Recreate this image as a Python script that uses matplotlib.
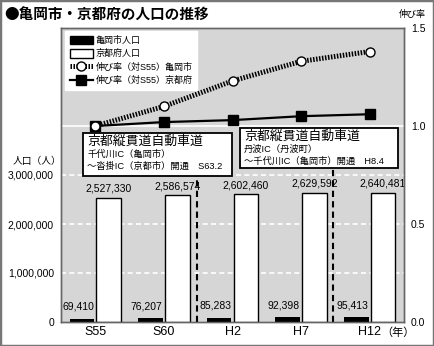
import numpy as np
import matplotlib
matplotlib.use('Agg')
import matplotlib.pyplot as plt
from matplotlib.patches import Patch, Rectangle
from matplotlib.lines import Line2D

plt.rcParams['font.family'] = ['Liberation Sans', 'Noto Sans CJK JP']

# data
years = ['S55', 'S60', 'H2', 'H7', 'H12']
kameoka_pop = [69410, 76207, 85283, 92398, 95413]
kyoto_pop = [2527330, 2586574, 2602460, 2629592, 2640481]
kameoka_rate = [1.00, 1.10, 1.23, 1.33, 1.38]
kyoto_rate = [1.00, 1.02, 1.03, 1.05, 1.06]
left_ticks = [0, 1000000, 2000000, 3000000]
right_ticks = [0.0, 0.5, 1.0, 1.5]

# road openings (x position between categories, box bottom in rate units)
events = [
    (1.485, 0.745, ['京都縦貫道自動車道', '千代川IC（亀岡市）', '～沓掛IC（京都市）開通　S63.2']),
    (3.46, 0.786, ['京都縦貫道自動車道', '丹波IC（丹波町）', '～千代川IC（亀岡市）開通　H8.4']),
]

W, H = 434, 346
fig = plt.figure(figsize=(W / 100, H / 100), dpi=100)
fig.patch.set_facecolor('white')
ax = fig.add_axes([61 / W, 1 - 322 / H, 343 / W, 294 / H])
ax2 = ax.twinx()

def fx(px):
    return px / W

def fy(py):
    return 1 - py / H

ax.set_facecolor('#d6d6d6')
x = np.arange(len(years))
bw = 0.36
ax.bar(x - 0.195, kameoka_pop, bw, color='black', zorder=3)
ax.bar(x + 0.195, kyoto_pop, bw, color='white', edgecolor='black', linewidth=1, zorder=3)

for v in left_ticks[1:]:
    ax.axhline(v, color='white', lw=1.2, ls=(0, (3, 2)), zorder=1)
ax.axhline(4000000, color='white', lw=1.2, zorder=1)

for xi, v in zip(x, kyoto_pop):
    ax.annotate(f'{v:,}', (xi + 0.195, v), xytext=(0, 3), textcoords='offset points',
                ha='center', va='bottom', fontsize=7.5, zorder=4)
for xi, v in zip(x, kameoka_pop):
    ax.annotate(f'{v:,}', (xi - 0.25, v), xytext=(0, 5), textcoords='offset points',
                ha='center', va='bottom', fontsize=7.5, zorder=4)

ax.set_xlim(-0.5, 4.5)
ax.set_ylim(0, 6000000)
ax.set_yticks(left_ticks)
ax.set_yticklabels([f'{v:,}' for v in left_ticks], fontsize=7.5)
ax.set_xticks(x)
ax.set_xticklabels(years, fontsize=9)
ax.tick_params(length=0, pad=5)
ax.tick_params(axis='x', pad=3)

ax2.set_ylim(0, 1.5)
ax2.set_yticks(right_ticks)
ax2.set_yticklabels([f'{v:.1f}' for v in right_ticks], fontsize=7.5)
ax2.tick_params(length=0, pad=5)

ax2.plot(x, kyoto_rate, color='black', lw=1.6, marker='s', ms=6.5, zorder=3)
ax2.plot(x, kameoka_rate, color='black', lw=3.6, ls=(0, (0.3, 0.3)), marker='o', ms=6.5,
         mfc='white', mec='black', mew=1, zorder=4)

for sp in list(ax.spines.values()) + list(ax2.spines.values()):
    sp.set_color('#666666')
    sp.set_linewidth(1)

# event boxes and dashed lines
box_px = [(83, 133, 232, 176), (240, 128, 398, 168)]
for (ex, ebot, lines), (x0, y0, x1, y1) in zip(events, box_px):
    ax2.plot([ex, ex], [0, ebot], color='black', lw=1.5, ls=(0, (3, 2)), zorder=2)
    fig.patches.append(Rectangle((fx(x0), fy(y1)), fx(x1) - fx(x0), fy(y0) - fy(y1),
                                 transform=fig.transFigure, facecolor='white',
                                 edgecolor='black', lw=1.3, zorder=5))
    fig.text(fx(x0 + 4), fy(y0 + 3), lines[0], fontsize=9.3, va='top', ha='left', zorder=6)
    fig.text(fx(x0 + 4), fy(y0 + 17), lines[1], fontsize=6.7, va='top', ha='left', zorder=6)
    fig.text(fx(x0 + 4), fy(y0 + 29), lines[2], fontsize=6.7, va='top', ha='left', zorder=6)

# legend
handles = [
    Patch(facecolor='black', edgecolor='black'),
    Patch(facecolor='white', edgecolor='black'),
    Line2D([], [], color='black', lw=3.6, ls=(0, (0.3, 0.3)), marker='o', ms=6.5,
           mfc='white', mec='black'),
    Line2D([], [], color='black', lw=1.6, marker='s', ms=6.5),
]
labels = ['亀岡市人口', '京都府人口', '伸び率（対S55）亀岡市', '伸び率（対S55）京都府']
leg = ax2.legend(handles, labels, loc='upper left', bbox_to_anchor=(fx(65), fy(31)),
                 bbox_transform=fig.transFigure, fontsize=6.5, frameon=True, fancybox=False,
                 borderaxespad=0, borderpad=0.5, labelspacing=0.45, handlelength=2.6,
                 handleheight=1.1, handletextpad=0.3)
leg.get_frame().set_edgecolor('white')
leg.get_frame().set_facecolor('white')
leg.get_frame().set_alpha(1)
leg.set_zorder(5)

fig.text(fx(4), fy(15), '●亀岡市・京都府の人口の推移', fontsize=10.5, fontweight='bold',
         va='center', ha='left', family='Noto Sans CJK JP')
fig.text(fx(412), fy(15), '伸び率', fontsize=6.5, va='center', ha='center')
fig.text(fx(37), fy(161), '人口（人）', fontsize=7, va='center', ha='center')
fig.text(fx(381), fy(333), '（年）', fontsize=8, va='center', ha='left')

fig.patches.append(Rectangle((0, 0), 1, 1, transform=fig.transFigure, fill=False,
                             edgecolor='#777777', lw=2.5))

fig.savefig('out.png', dpi=100)
